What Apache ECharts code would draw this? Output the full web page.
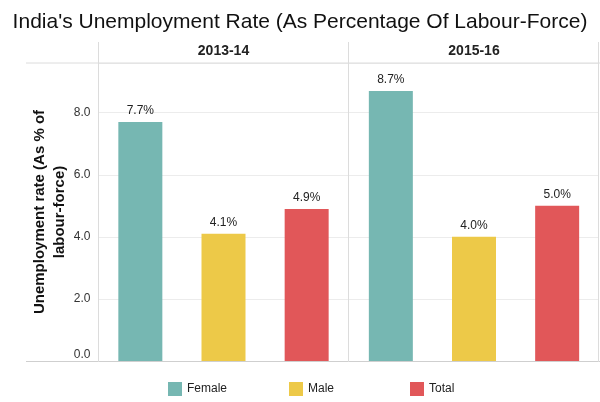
<!DOCTYPE html>
<html><head><meta charset="utf-8">
<script src="https://cdn.jsdelivr.net/npm/echarts@6/dist/echarts.min.js"></script>
<style>html,body{margin:0;padding:0;background:#fff}#c{width:600px;height:402px}</style>
</head><body><div id="c"></div>
<script>
const periods = ['2013-14', '2015-16'];
const groups = ['Female', 'Male', 'Total'];
const female = [7.7, 8.7];
const male = [4.1, 4.0];
const total = [4.9, 5.0];
const yTicks = [0, 2, 4, 6, 8];

const colors = {Female: '#76b7b2', Male: '#edc948', Total: '#e15759'};
const values = {Female: female, Male: male, Total: total};
const FONT = 'Liberation Sans, Arial, sans-serif';

const chart = echarts.init(document.getElementById('c'));
const grids = [
  {left: 98.5, top: 63, width: 250, height: 298},
  {left: 349, top: 63, width: 250, height: 298}
];
const xAxes = periods.map((p, i) => ({
  type: 'category', gridIndex: i, data: [p], position: 'top',
  axisLine: {show: false}, axisTick: {show: false},
  axisLabel: {margin: 5, fontSize: 14, fontWeight: 'bold', color: '#222', fontFamily: FONT}
}));
const yAxes = periods.map((p, i) => ({
  type: 'value', gridIndex: i, min: 0, max: 9.6, interval: 2,
  name: i === 0 ? 'Unemployment rate (As % of\nlabour-force)' : '',
  nameLocation: 'middle', nameGap: 28, nameRotate: 90,
  nameTextStyle: {fontSize: 15, fontWeight: 'bold', color: '#111', fontFamily: FONT, lineHeight: 20},
  axisLine: {show: false}, axisTick: {show: false},
  axisLabel: {show: i === 0, fontSize: 12, color: '#333', fontFamily: FONT, margin: 8,
    formatter: v => v === 0 ? '{z|0.0}' : (yTicks.indexOf(v) >= 0 ? v.toFixed(1) : ''),
    rich: {z: {fontSize: 12, color: '#333', fontFamily: FONT, padding: [0, 0, 12, 0]}}},
  splitLine: {lineStyle: {color: '#ececec', width: 1}}
}));
const series = [];
periods.forEach((p, i) => {
  groups.forEach(g => {
    series.push({
      name: g, type: 'bar', xAxisIndex: i, yAxisIndex: i,
      data: [values[g][i]], barWidth: 44, barGap: '89%',
      itemStyle: {color: colors[g]},
      label: {show: true, position: 'top', distance: 5, fontSize: 12, color: '#222', fontFamily: FONT,
        formatter: d => d.value.toFixed(1) + '%'}
    });
  });
});
const legendLeft = [163, 284, 405];
const legends = groups.map((g, k) => ({
  data: [g], left: legendLeft[k], top: 377, itemWidth: 14, itemHeight: 14, icon: 'rect',
  textStyle: {fontSize: 12, color: '#222', fontFamily: FONT}
}));

chart.setOption({
  animation: false,
  title: {text: "India's Unemployment Rate (As Percentage Of Labour-Force)", left: 'center', top: 7,
    textStyle: {fontSize: 21, fontWeight: 'normal', color: '#111', fontFamily: FONT}},
  legend: legends,
  grid: grids, xAxis: xAxes, yAxis: yAxes, series: series,
  graphic: [
    {type: 'line', shape: {x1: 26, y1: 63, x2: 600, y2: 63}, style: {stroke: '#dcdcdc', lineWidth: 1}, z: 10},
    {type: 'line', shape: {x1: 26, y1: 361.5, x2: 600, y2: 361.5}, style: {stroke: '#cfcfcf', lineWidth: 1.2}, z: 10},
    {type: 'line', shape: {x1: 98.5, y1: 42, x2: 98.5, y2: 362}, style: {stroke: '#dcdcdc', lineWidth: 1}, z: 10},
    {type: 'line', shape: {x1: 348.5, y1: 42, x2: 348.5, y2: 362}, style: {stroke: '#dcdcdc', lineWidth: 1}, z: 10},
    {type: 'line', shape: {x1: 598.5, y1: 42, x2: 598.5, y2: 362}, style: {stroke: '#dcdcdc', lineWidth: 1}, z: 10}
  ]
});
</script></body></html>
